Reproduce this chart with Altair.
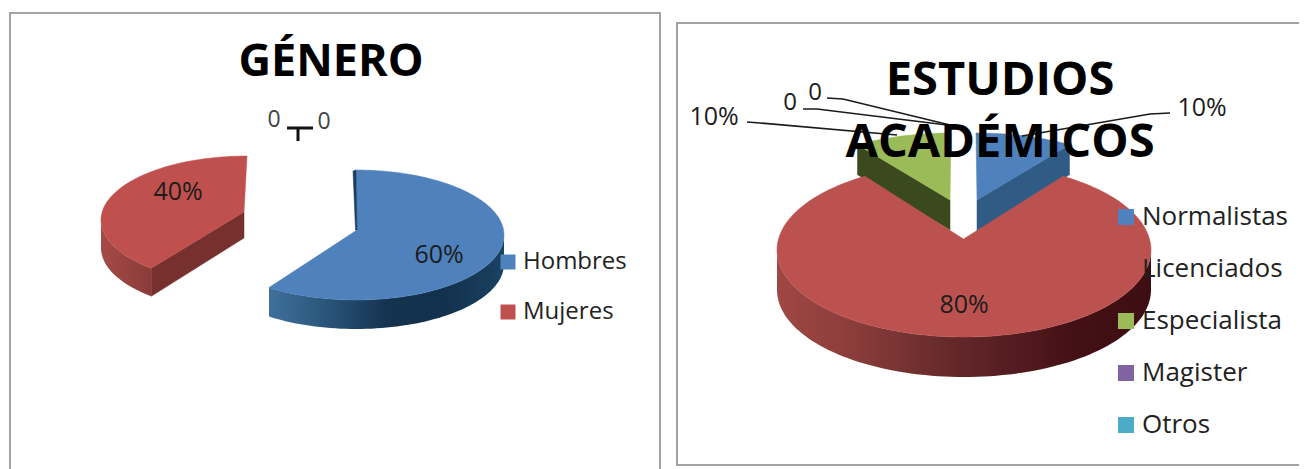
import math
import altair as alt
import pandas as pd

# ---- chart values ----
genero_cats = ["Hombres", "Mujeres"]
genero_vals = [60, 40]
genero_cols = ["#4f81bd", "#c0504d"]

estudios_cats = ["Normalistas", "Licenciados", "Especialista", "Magister", "Otros"]
estudios_vals = [10, 80, 10, 0, 0]
estudios_cols = ["#4f81bd", "#bc5250", "#9bbb59", "#8064a2", "#4bacc6"]

FONT = "Open Sans"
W, H = 1291, 461
xs = alt.Scale(domain=[8, 8 + W], nice=False, zero=False)
ys = alt.Scale(domain=[8 + H, 8], nice=False, zero=False)


def pos(df):
    return dict(x=alt.X("x:Q", scale=xs, axis=None), y=alt.Y("y:Q", scale=ys, axis=None))


def grad(*stops):
    n = len(stops) - 1
    return alt.Gradient(gradient="linear", x1=0, x2=1, y1=0, y2=0,
                        stops=[alt.GradientStop(offset=i / n, color=c) for i, c in enumerate(stops)])


def poly(points, fill):
    df = pd.DataFrame({"x": [p[0] for p in points], "y": [p[1] for p in points], "i": range(len(points))})
    return alt.Chart(df).mark_line(fill=fill, stroke=fill if isinstance(fill, str) else "#00000000",
                                   strokeWidth=0.5, interpolate="linear-closed").encode(
        order="i:Q", **pos(df))


def arc(e, t0, t1):
    cx, cy, a, b = e
    n = max(2, int(abs(t1 - t0) / 2))
    out = []
    for k in range(n + 1):
        t = math.radians(t0 + (t1 - t0) * k / n)
        out.append((cx + a * math.sin(t), cy - b * math.cos(t)))
    return out


def shift(pts, d):
    return [(x, y + d) for x, y in pts]


def bounds(vals):
    s, out = 0, []
    for v in vals:
        out.append((s * 3.6, (s + v) * 3.6))
        s += v
    return out


layers = []

# frames
frames = pd.DataFrame({"x": [10, 677], "x2": [660, 1330], "y": [13, 23], "y2": [490, 465]})
layers.append(alt.Chart(frames).mark_rect(fill="white", stroke="#a3a3a3", strokeWidth=2).encode(
    x=alt.X("x:Q", scale=xs, axis=None), x2="x2:Q",
    y=alt.Y("y:Q", scale=ys, axis=None), y2="y2:Q"))

# ---- GÉNERO ----
gb = bounds(genero_vals)
# Hombres
e = (356, 235, 148, 65)
apex = (357, 230)
t0, t1 = gb[0]
front = arc(e, 90, t1)
layers.append(poly(front + shift(front, 29)[::-1], grad("#3f709c", "#2a5479", "#15334f", "#12314c", "#1a4262")))
layers.append(poly([apex] + arc(e, t0, t1), genero_cols[0]))
start = arc(e, t0, t0)[0]
layers.append(poly([start, apex, (apex[0] - 1.5, apex[1]), (start[0] - 3, start[1] + 1)], "#1d3d5e"))
# Mujeres
e = (247, 220, 146, 64)
apex = (244, 212)
t0, t1 = gb[1][0] + 5, gb[1][1]
edge = arc(e, t0, t0)[0]
layers.append(poly([apex, edge, (edge[0], edge[1] + 28), (apex[0], apex[1] + 26)], "#76302e"))
side = arc(e, t0, 270)
layers.append(poly(side + shift(side, 28)[::-1], grad("#a64a47", "#97433f", "#8a3c3a")))
layers.append(poly([apex] + arc(e, t0, t1), genero_cols[1]))

# ---- ESTUDIOS ACADÉMICOS ----
eb = bounds(estudios_vals)
# Normalistas
e = (976, 220, 187, 87)
apex = (977, 200)
t0, t1 = eb[0][0], eb[0][1] - 6
edge = arc(e, t1, t1)[0]
layers.append(poly([apex, edge, (edge[0], edge[1] + 30), (apex[0], apex[1] + 32)], "#2f5b85"))
layers.append(poly([apex] + arc(e, t0, t1), estudios_cols[0]))
# Especialista
e = (951, 220, 187, 87)
apex = (950, 200)
t0, t1 = eb[2][0] + 6, eb[2][1]
edge = arc(e, t0, t0)[0]
layers.append(poly([apex, edge, (edge[0], edge[1] + 30), (apex[0], apex[1] + 30)], "#3a4a1e"))
layers.append(poly([apex] + arc(e, t0, t1), estudios_cols[2]))
# Licenciados
e = (964, 250, 187, 87)
apex = (963.5, 239)
t0, t1 = eb[1][0] - 4, eb[1][1] + 4
side = arc(e, 90, 270)[::-1]
layers.append(poly(side + shift(side, 40)[::-1], grad("#a04744", "#8b3d3b", "#6d2e2e", "#571e22", "#431015", "#3d0e12")))
layers.append(poly([apex] + arc(e, t0, t1), estudios_cols[1]))

# ---- leader lines ----
leaders = {
    "a": [(287, 128), (313, 128)],
    "b": [(298, 128), (298, 141)],
}
thin = {
    "c": [(1170, 113), (1150, 114), (1022, 136)],
    "d": [(747, 122), (760, 123), (897, 135)],
    "e": [(803, 109), (817, 109), (947, 125)],
    "f": [(827, 98), (843, 99), (950, 125)],
}


def lines(d, width, color):
    rows = [{"k": k, "i": i, "x": p[0], "y": p[1]} for k, v in d.items() for i, p in enumerate(v)]
    df = pd.DataFrame(rows)
    return alt.Chart(df).mark_line(stroke=color, strokeWidth=width).encode(
        detail="k:N", order="i:Q", **pos(df))


layers.append(lines(leaders, 3, "#111111"))
layers.append(lines(thin, 1.6, "#1a1a1a"))


# ---- text ----
def text(rows, size, weight="normal", color="#1c1c1c"):
    df = pd.DataFrame(rows, columns=["t", "x", "y"])
    return alt.Chart(df).mark_text(font=FONT, fontSize=size, fontWeight=weight, color=color,
                                   align="center", baseline="middle").encode(text="t:N", **pos(df))


layers.append(text([("GÉNERO", 331, 62)], 45, "bold", "#000000"))
layers.append(text([("ESTUDIOS", 1000, 81), ("ACADÉMICOS", 1000, 143)], 47, "bold", "#000000"))
layers.append(text([("60%", 439, 255), ("40%", 178, 192), ("80%", 964, 305),
                    ("10%", 714, 117), ("10%", 1202, 108)], 25))
layers.append(text([("0", 790, 103), ("0", 815, 93)], 24))
layers.append(text([("0", 274, 120), ("0", 324, 122)], 23, color="#444444"))


# ---- legends ----
def legend(cats, cols, lx, ly, row):
    df = pd.DataFrame({"c": cats, "x": [lx + 8] * len(cats), "y": [ly + 8] * len(cats)})
    return alt.Chart(df).mark_point(filled=True, shape="square", size=0, opacity=1).encode(
        color=alt.Color("c:N", scale=alt.Scale(domain=cats, range=cols), legend=alt.Legend(
            title=None, orient="none", legendX=lx, legendY=ly, symbolType="square", symbolSize=row[0],
            symbolStrokeWidth=0, labelFont=FONT, labelFontSize=row[1], labelColor="#222222",
            rowPadding=row[2], labelOffset=row[3], zindex=1)),
        **pos(df))


layers.append(legend(genero_cats, genero_cols, 488, 242, (225, 24, 26, 3)))
layers.append(legend(estudios_cats, estudios_cols, 1105, 196, (256, 26, 26, 3)))

chart = alt.layer(*layers).resolve_scale(color="independent").properties(
    width=W, height=H, padding=0, autosize=alt.AutoSizeParams(type="none"),
    background="white").configure_view(stroke=None)

chart.save("out.html", embed_options={"renderer": "svg", "actions": False})
